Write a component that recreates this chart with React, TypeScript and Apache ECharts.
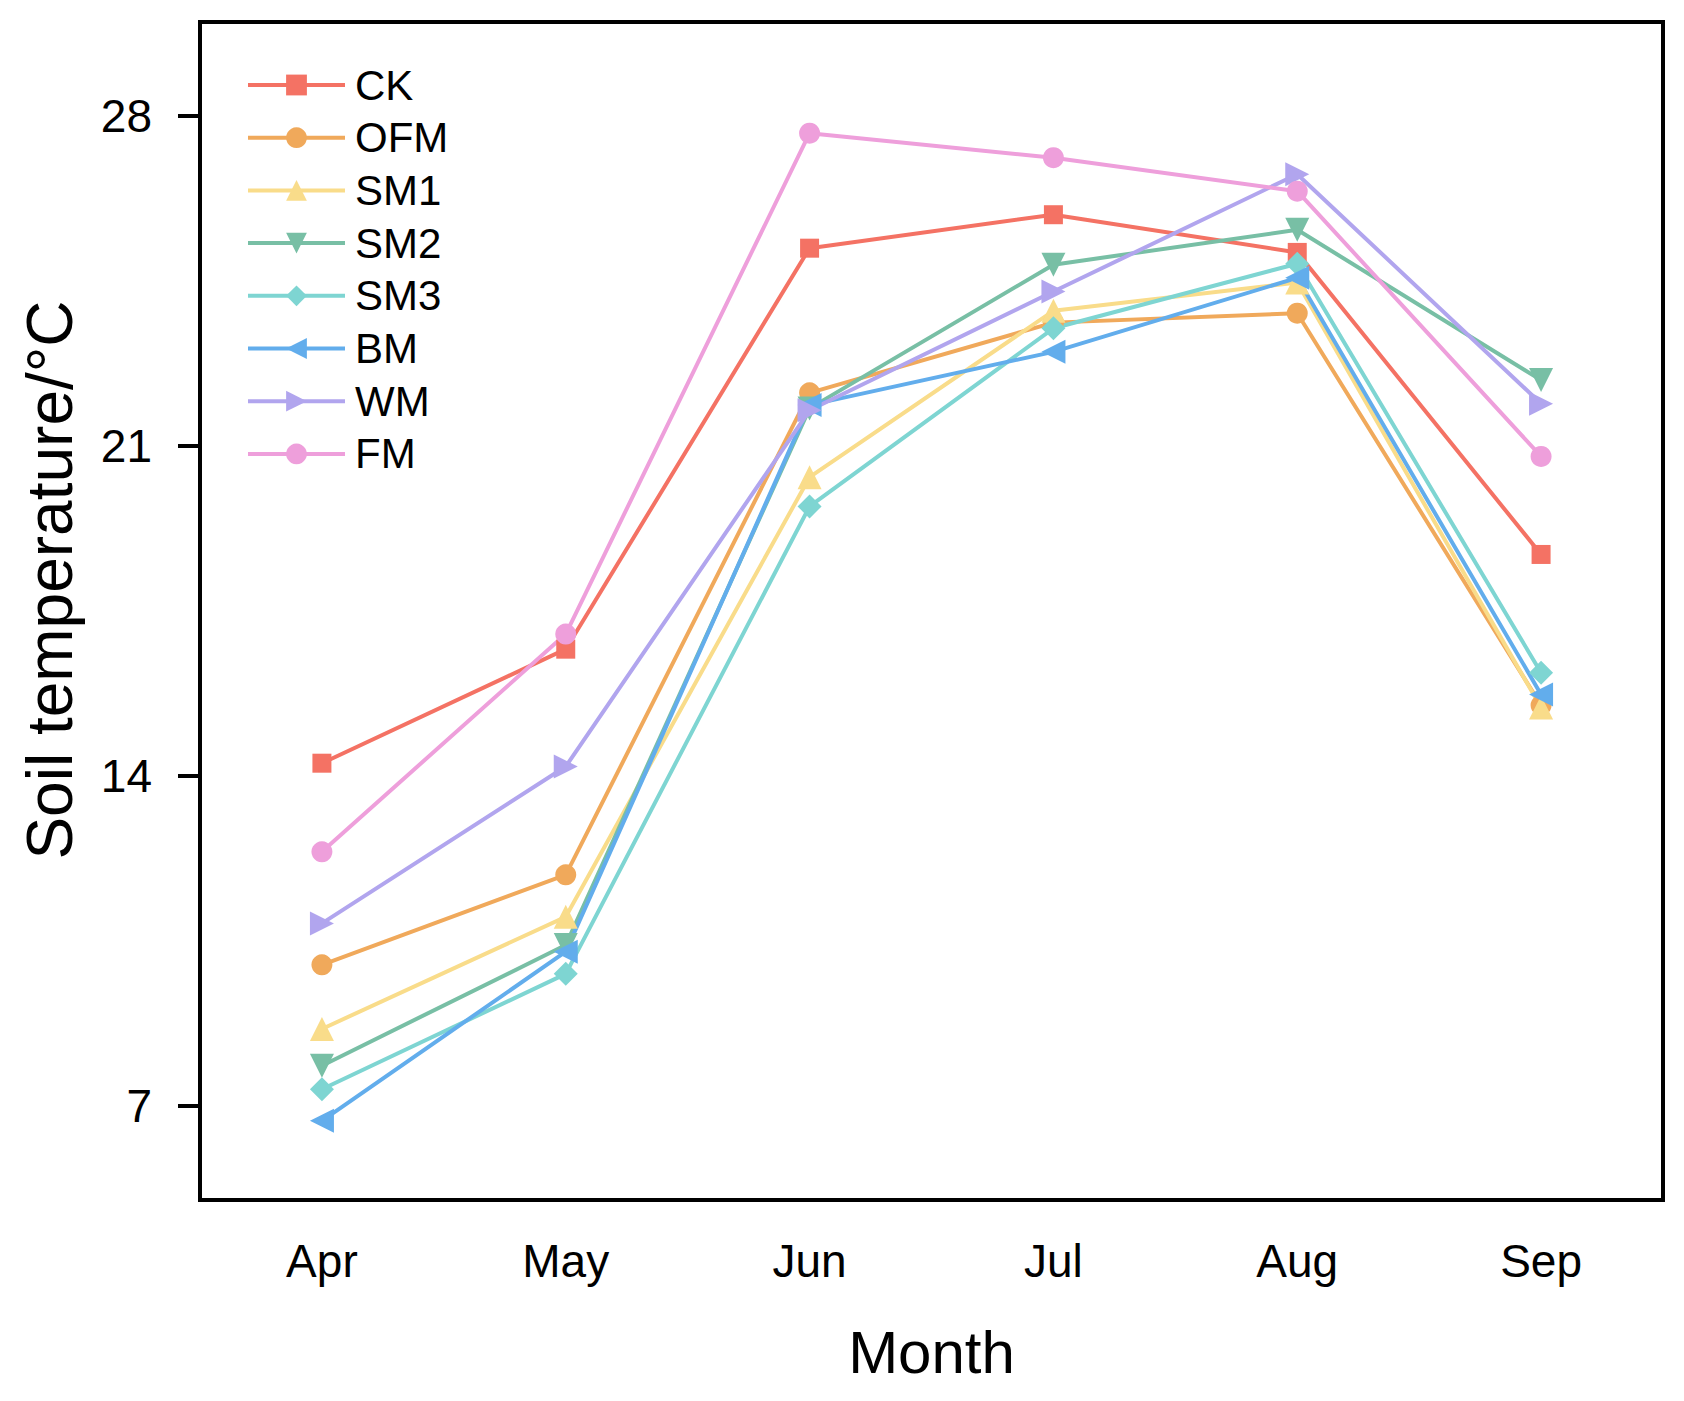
import React, { useEffect, useRef } from "react";
import * as echarts from "echarts";

const months = ["Apr", "May", "Jun", "Jul", "Aug", "Sep"];
const seriesNames = ["CK", "OFM", "SM1", "SM2", "SM3", "BM", "WM", "FM"];
const ck = [14.27, 16.69, 25.2, 25.91, 25.11, 18.7];
const ofm = [9.99, 11.9, 22.13, 23.62, 23.82, 15.5];
const sm1 = [8.63, 11.01, 20.34, 23.87, 24.47, 15.45];
const sm2 = [7.85, 10.41, 21.8, 24.85, 25.59, 22.4];
const sm3 = [7.35, 9.8, 19.72, 23.5, 24.87, 16.19];
const bm = [6.68, 10.27, 21.87, 23.0, 24.57, 15.73];
const wm = [10.87, 14.2, 21.76, 24.28, 26.77, 21.9];
const fm = [12.39, 17.01, 27.64, 27.12, 26.41, 20.78];
const yTicks = [7, 14, 21, 28];

const seriesData = [ck, ofm, sm1, sm2, sm3, bm, wm, fm];
const colors = ["#F47264", "#F0A95B", "#F9DC8A", "#78BFA5", "#7ED5D2", "#62ADEC", "#B1A5EE", "#EE9FDB"];
const symbols = ["rect", "circle", "triangle", "triangle", "diamond", "triangle", "triangle", "circle"];
const rotations = [0, 0, 0, 180, 0, 90, -90, 0];
const sizes = [19, 21, 24, 24, 24, 24, 24, 21];

const FONT = '"Liberation Sans", Arial, Helvetica, sans-serif';

export default function App() {
  const ref = useRef<HTMLDivElement>(null);
  useEffect(() => {
    document.body.style.margin = "0";
    if (!ref.current) return;
    const chart = echarts.init(ref.current, null, { renderer: "svg" });
    chart.setOption({
      animation: false,
      backgroundColor: "#fff",
      grid: {
        left: 200,
        right: 21,
        top: 22,
        bottom: 201,
        show: true,
        borderColor: "#000",
        borderWidth: 4,
        containLabel: false,
      },
      legend: {
        left: 241,
        top: 58,
        orient: "vertical",
        itemWidth: 97,
        itemHeight: 26,
        itemGap: 8.7,
        data: seriesNames,
        lineStyle: { width: 4 },
        textStyle: {
          fontFamily: FONT,
          fontSize: 42,
          lineHeight: 44,
          color: "#000",
          padding: [0, 0, 0, 5],
        },
      },
      graphic: [
        {
          type: "text",
          x: 50,
          y: 580,
          rotation: Math.PI / 2,
          style: {
            text: "Soil temperature/°C",
            fontFamily: FONT,
            fontSize: 64,
            fill: "#000",
            textAlign: "center",
            textVerticalAlign: "middle",
          },
        },
      ],
      xAxis: {
        type: "category",
        data: months,
        boundaryGap: true,
        name: "Month",
        nameLocation: "middle",
        nameGap: 122,
        nameTextStyle: { fontFamily: FONT, fontSize: 60, color: "#000" },
        axisLine: { lineStyle: { color: "#000", width: 4 } },
        axisTick: { alignWithLabel: true, length: 20, lineStyle: { color: "#000", width: 3 } },
        axisLabel: { margin: 38, fontFamily: FONT, fontSize: 46, color: "#000" },
        splitLine: { show: false },
      },
      yAxis: {
        type: "value",
        min: 5,
        max: 30,
        axisLine: { show: true, lineStyle: { color: "#000", width: 4 } },
        axisTick: { show: true, length: 22, customValues: yTicks, lineStyle: { color: "#000", width: 4 } },
        axisLabel: { margin: 48, fontFamily: FONT, fontSize: 46, color: "#000", customValues: yTicks },
        splitLine: { show: false },
      },
      series: seriesNames.map((name, i) => ({
        name,
        type: "line",
        data: seriesData[i],
        symbol: symbols[i],
        symbolSize: sizes[i],
        symbolRotate: rotations[i],
        showAllSymbol: true,
        color: colors[i],
        lineStyle: { width: 4, color: colors[i] },
        itemStyle: { color: colors[i] },
      })),
    });
    return () => chart.dispose();
  }, []);
  return <div ref={ref} style={{ width: 1684, height: 1401 }} />;
}
